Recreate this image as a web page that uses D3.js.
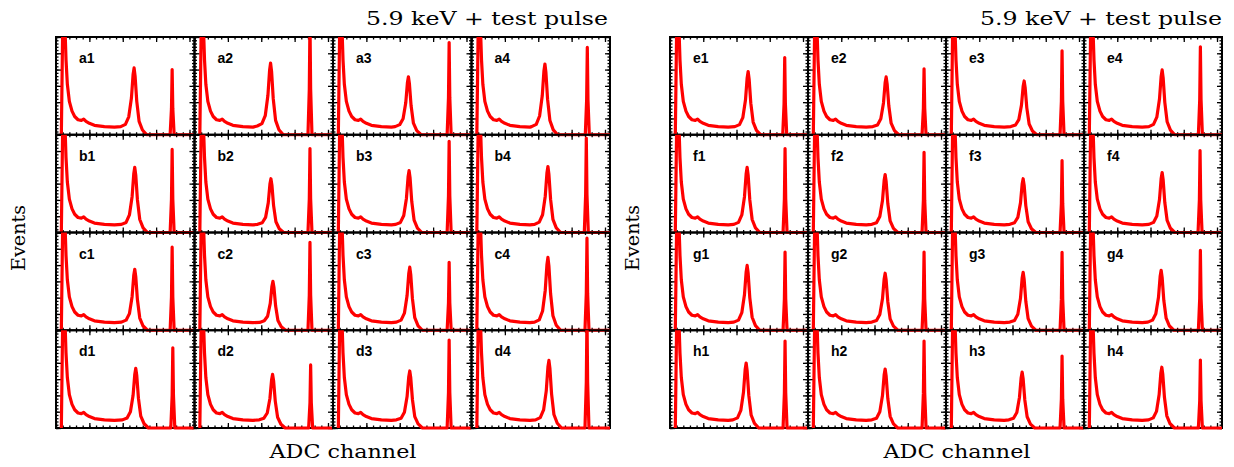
<!DOCTYPE html>
<html>
<head>
<meta charset="utf-8">
<script src="https://cdn.jsdelivr.net/npm/d3@7"></script>
<style>
  body { margin: 0; background: #fff; }
  .lbl { font-family: "Liberation Sans", Arial, sans-serif; font-weight: bold; font-size: 14px; }
  .big { font-family: "DejaVu Serif", serif; font-size: 19px; }
</style>
</head>
<body>
<div id="vis"></div>
<script>
// ADC channel / counts ranges of every panel
var xDomain = [0, 4150];
var yDomain = [0, 600];
var xMajorTicks = [0, 1000, 2000, 3000, 4000];
var yMajorTicks = [0, 100, 200, 300, 400, 500, 600];

var leftRows = ["a", "b", "c", "d"];
var rightRows = ["e", "f", "g", "h"];
var cols = ["1", "2", "3", "4"];

// low-energy noise edge + continuum, same look in all panels
var lowEnd = [[160,0],[200,650],[270,650],[300,460],[340,310],[400,205],[480,145],[560,112],[660,92],[760,88],[830,96],[900,82],[1000,70],[1150,58],[1450,50],[1750,47]];

// 5.9 keV peak + test pulse, [channel, counts]
var rowA = [
  [[1940,50],[2080,64],[2180,110],[2260,225],[2310,370],[2340,410],[2370,360],[2420,205],[2490,82],[2590,29],[2720,0],[3420,0],[3460,160],[3480,400],[3500,160],[3540,0],[4150,0]],
  [[1880,54],[2020,68],[2120,117],[2200,242],[2250,396],[2280,440],[2310,387],[2360,220],[2430,88],[2530,31],[2660,0],[3400,0],[3440,280],[3460,700],[3480,280],[3520,0],[4150,0]],
  [[1860,50],[2000,62],[2100,98],[2180,196],[2230,320],[2260,356],[2290,313],[2340,178],[2410,71],[2510,25],[2640,0],[3420,0],[3460,226],[3480,566],[3500,226],[3540,0],[4150,0]],
  [[1800,50],[1940,64],[2040,115],[2120,239],[2170,391],[2200,434],[2230,382],[2280,217],[2350,87],[2450,30],[2580,0],[3410,0],[3450,214],[3470,536],[3490,214],[3530,0],[4150,0]]
];
var rowB = [
  [[1960,50],[2100,62],[2200,108],[2280,220],[2330,360],[2360,400],[2390,352],[2440,200],[2510,80],[2610,28],[2740,0],[3420,0],[3460,204],[3480,510],[3500,204],[3540,0],[4150,0]],
  [[1890,50],[2030,60],[2130,93],[2210,182],[2260,297],[2290,330],[2320,290],[2370,165],[2440,66],[2540,23],[2670,0],[3400,0],[3440,206],[3460,515],[3480,206],[3520,0],[4150,0]],
  [[1880,50],[2020,62],[2120,104],[2200,209],[2250,342],[2280,380],[2310,334],[2360,190],[2430,76],[2530,27],[2660,0],[3420,0],[3460,224],[3480,560],[3500,224],[3540,0],[4150,0]],
  [[1890,50],[2030,64],[2130,109],[2210,223],[2260,365],[2290,405],[2320,356],[2370,203],[2440,81],[2540,28],[2670,0],[3380,0],[3420,232],[3440,580],[3460,232],[3500,0],[4150,0]]
];
var rowC = [
  [[1960,50],[2100,62],[2200,102],[2280,206],[2330,337],[2360,374],[2390,329],[2440,187],[2510,75],[2610,26],[2740,0],[3420,0],[3460,204],[3480,510],[3500,204],[3540,0],[4150,0]],
  [[1950,48],[2090,58],[2190,86],[2270,165],[2320,270],[2350,300],[2380,264],[2430,150],[2500,60],[2600,21],[2730,0],[3400,0],[3440,216],[3460,540],[3480,216],[3520,0],[4150,0]],
  [[1900,50],[2040,62],[2140,105],[2220,213],[2270,348],[2300,387],[2330,341],[2380,194],[2450,77],[2550,27],[2680,0],[3420,0],[3460,167],[3480,417],[3500,167],[3540,0],[4150,0]],
  [[1890,50],[2030,64],[2130,118],[2210,246],[2260,402],[2290,447],[2320,393],[2370,224],[2440,89],[2540,31],[2670,0],[3400,0],[3440,226],[3460,565],[3480,226],[3520,0],[4150,0]]
];
var rowD = [
  [[1990,50],[2130,62],[2230,100],[2310,201],[2360,329],[2390,366],[2420,322],[2470,183],[2540,73],[2640,26],[2770,0],[3440,0],[3480,197],[3500,492],[3520,197],[3560,0],[4150,0]],
  [[1940,50],[2080,60],[2180,92],[2260,181],[2310,296],[2340,329],[2370,290],[2420,165],[2490,66],[2590,23],[2720,0],[3420,0],[3460,155],[3480,387],[3500,155],[3540,0],[4150,0]],
  [[1900,50],[2040,60],[2140,97],[2220,193],[2270,315],[2300,350],[2330,308],[2380,175],[2450,70],[2550,25],[2680,0],[3420,0],[3460,216],[3480,540],[3500,216],[3540,0],[4150,0]],
  [[1920,50],[2060,64],[2160,111],[2240,228],[2290,374],[2320,415],[2350,365],[2400,208],[2470,83],[2570,29],[2700,0],[3400,0],[3440,280],[3460,700],[3480,280],[3520,0],[4150,0]]
];
var rowE = [
  [[1950,50],[2090,62],[2190,105],[2270,213],[2320,349],[2350,388],[2380,341],[2430,194],[2500,78],[2600,27],[2730,0],[3390,0],[3430,190],[3450,474],[3470,190],[3510,0],[4150,0]],
  [[1950,50],[2090,60],[2190,98],[2270,195],[2320,320],[2350,355],[2380,312],[2430,178],[2500,71],[2600,25],[2730,0],[3430,0],[3470,162],[3490,405],[3510,162],[3550,0],[4150,0]],
  [[1950,50],[2090,60],[2190,93],[2270,182],[2320,297],[2350,330],[2380,290],[2430,165],[2500,66],[2600,23],[2730,0],[3430,0],[3470,206],[3490,515],[3510,206],[3550,0],[4150,0]],
  [[1950,50],[2090,64],[2190,108],[2270,219],[2320,358],[2350,398],[2380,350],[2430,199],[2500,80],[2600,28],[2730,0],[3440,0],[3480,216],[3500,540],[3520,216],[3560,0],[4150,0]]
];
var rowF = [
  [[1920,50],[2060,62],[2160,108],[2240,220],[2290,360],[2320,400],[2350,352],[2400,200],[2470,80],[2570,28],[2700,0],[3400,0],[3440,206],[3460,515],[3480,206],[3520,0],[4150,0]],
  [[1920,50],[2060,60],[2160,98],[2240,196],[2290,320],[2320,356],[2350,313],[2400,178],[2470,71],[2570,25],[2700,0],[3430,0],[3470,197],[3490,492],[3510,197],[3550,0],[4150,0]],
  [[1920,50],[2060,60],[2160,93],[2240,182],[2290,297],[2320,330],[2350,290],[2400,165],[2470,66],[2570,23],[2700,0],[3430,0],[3470,177],[3490,442],[3510,177],[3550,0],[4150,0]],
  [[1950,50],[2090,62],[2190,101],[2270,202],[2320,331],[2350,368],[2380,324],[2430,184],[2500,74],[2600,26],[2730,0],[3430,0],[3470,201],[3490,503],[3510,201],[3550,0],[4150,0]]
];
var rowG = [
  [[1920,50],[2060,62],[2160,108],[2240,219],[2290,358],[2320,398],[2350,350],[2400,199],[2470,80],[2570,28],[2700,0],[3400,0],[3440,192],[3460,480],[3480,192],[3520,0],[4150,0]],
  [[1920,50],[2060,60],[2160,97],[2240,193],[2290,315],[2320,350],[2350,308],[2400,175],[2470,70],[2570,25],[2700,0],[3430,0],[3470,192],[3490,480],[3510,192],[3550,0],[4150,0]],
  [[1920,50],[2060,60],[2160,98],[2240,196],[2290,320],[2320,356],[2350,313],[2400,178],[2470,71],[2570,25],[2700,0],[3430,0],[3470,191],[3490,478],[3510,191],[3550,0],[4150,0]],
  [[1920,50],[2060,62],[2160,101],[2240,202],[2290,331],[2320,368],[2350,324],[2400,184],[2470,74],[2570,26],[2700,0],[3440,0],[3480,196],[3500,490],[3520,196],[3560,0],[4150,0]]
];
var rowH = [
  [[1890,50],[2030,62],[2130,108],[2210,219],[2260,359],[2290,399],[2320,351],[2370,200],[2440,80],[2540,28],[2670,0],[3400,0],[3440,214],[3460,534],[3480,214],[3520,0],[4150,0]],
  [[1920,50],[2060,60],[2160,100],[2240,199],[2290,326],[2320,362],[2350,319],[2400,181],[2470,72],[2570,25],[2700,0],[3430,0],[3470,214],[3490,534],[3510,214],[3550,0],[4150,0]],
  [[1890,50],[2030,60],[2130,95],[2210,189],[2260,309],[2290,343],[2320,302],[2370,172],[2440,69],[2540,24],[2670,0],[3430,0],[3470,177],[3490,442],[3510,177],[3550,0],[4150,0]],
  [[1940,50],[2080,62],[2180,102],[2260,205],[2310,336],[2340,373],[2370,328],[2420,187],[2490,75],[2590,26],[2720,0],[3440,0],[3480,167],[3500,417],[3520,167],[3560,0],[4150,0]]
];

var titleText = "5.9 keV + test pulse";
var xLabelText = "ADC channel";
var yLabelText = "Events";

var svg = d3.select("#vis")
    .append("svg")
    .attr("width", 1234)
    .attr("height", 467);

var top0 = 37, bottom0 = 428;

var blocks = [
    { rows: leftRows, data: [rowA, rowB, rowC, rowD], x0: 56, w: 554, titleX: 608, xLabX: 343, yLabX: 25 },
    { rows: rightRows, data: [rowE, rowF, rowG, rowH], x0: 670, w: 552, titleX: 1222, xLabX: 957, yLabX: 639 }
];

blocks.forEach(function (b) {
    var pw = b.w / 4, ph = (bottom0 - top0) / 4;

    var x = d3.scaleLinear().domain(xDomain).range([0, pw]);
    var y = d3.scaleLinear().domain(yDomain).range([ph, 0]);

    var xMinor = d3.range(0, 4150, 200);
    var yMinor = d3.range(0, 601, 20);

    var line = d3.line()
        .x(d => x(d[0]))
        .y(d => y(d[1]));

    b.rows.forEach(function (r, ri) {
        cols.forEach(function (c, ci) {
            var name = r + c;
            var g = svg.append("g")
                .attr("transform", "translate(" + (b.x0 + ci * pw) + "," + (top0 + ri * ph) + ")");

            // ticks, inward on all four sides
            var axes = [
                { ax: d3.axisBottom(x), t: "translate(0," + ph + ")", maj: xMajorTicks, min: xMinor },
                { ax: d3.axisTop(x), t: "translate(0,0)", maj: xMajorTicks, min: xMinor },
                { ax: d3.axisLeft(y), t: "translate(0,0)", maj: yMajorTicks, min: yMinor },
                { ax: d3.axisRight(y), t: "translate(" + pw + ",0)", maj: yMajorTicks, min: yMinor }
            ];
            axes.forEach(function (a) {
                [[a.min, -2.5], [a.maj, -5]].forEach(function (s) {
                    var ag = g.append("g")
                        .attr("transform", a.t)
                        .call(a.ax.tickValues(s[0]).tickSize(s[1]).tickSizeOuter(0).tickFormat(""));
                    ag.select(".domain").remove();
                    ag.selectAll("line").attr("stroke", "#000").attr("stroke-width", 1.3);
                });
            });

            g.append("rect")
                .attr("width", pw)
                .attr("height", ph)
                .attr("fill", "none")
                .attr("stroke", "#000")
                .attr("stroke-width", 2);

            g.append("clipPath")
                .attr("id", "clip-" + name)
                .append("rect")
                .attr("x", 0)
                .attr("y", 0)
                .attr("width", pw)
                .attr("height", ph + 2);

            g.append("path")
                .datum(lowEnd.concat(b.data[ri][ci]))
                .attr("clip-path", "url(#clip-" + name + ")")
                .attr("d", line)
                .attr("fill", "none")
                .attr("stroke", "#ff0000")
                .attr("stroke-width", 3.2)
                .attr("stroke-linejoin", "round");

            g.append("text")
                .attr("class", "lbl")
                .attr("x", 23)
                .attr("y", 26)
                .text(name);
        });
    });

    svg.append("text")
        .attr("class", "big")
        .attr("x", b.titleX)
        .attr("y", 25)
        .attr("text-anchor", "end")
        .attr("textLength", 242)
        .attr("lengthAdjust", "spacingAndGlyphs")
        .text(titleText);

    svg.append("text")
        .attr("class", "big")
        .attr("x", b.xLabX)
        .attr("y", 458)
        .attr("text-anchor", "middle")
        .attr("textLength", 147)
        .attr("lengthAdjust", "spacingAndGlyphs")
        .text(xLabelText);

    svg.append("text")
        .attr("class", "big")
        .attr("transform", "translate(" + b.yLabX + ",238) rotate(-90)")
        .attr("text-anchor", "middle")
        .attr("textLength", 66)
        .attr("lengthAdjust", "spacingAndGlyphs")
        .text(yLabelText);
});
</script>
</body>
</html>
